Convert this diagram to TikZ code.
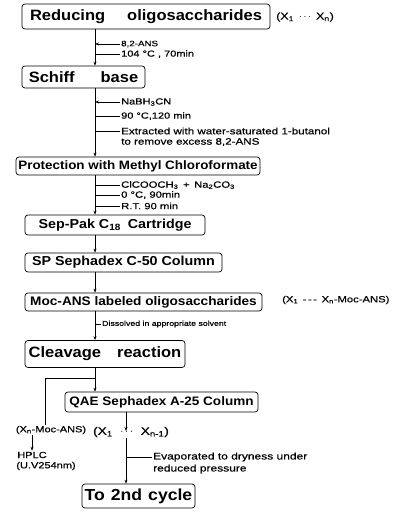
\documentclass[tikz,border=0pt]{standalone}
\usepackage{fontspec}
\setmainfont{Liberation Sans}
\newfontfamily\bxf[FakeStretch=1.1]{Liberation Sans}
\newfontfamily\anf[FakeStretch=1.25,FakeBold=0.5]{Liberation Sans}
\usetikzlibrary{arrows.meta}
\begin{document}
\begin{tikzpicture}[x=1pt,y=-1pt,
  stage/.style={draw, line width=0.7pt, rounded corners=3pt, inner sep=0pt},
  ann/.style={anchor=west, inner sep=1pt, font=\anf\fontsize{8.8}{9}\selectfont},
  conn/.style={line width=0.6pt},
  arr/.style={conn, -{Stealth[length=4pt,width=3pt]}},
]
\useasboundingbox (0,0) rectangle (406,515);
\newcommand\bfs[1]{\bxf\bfseries\fontsize{#1}{#1}\selectfont}
% stages
\node[stage, minimum width=248pt, minimum height=25pt, font=\bfs{15}] (b1) at (146,16.5) {Reducing\hspace{22pt}oligosaccharides};
\node[stage, minimum width=123pt, minimum height=22pt, font=\bfs{15}] (b2) at (83.5,77) {Schiff\hspace{26pt}base};
\node[stage, minimum width=244pt, minimum height=18pt, font=\bfs{12.2}] (b3) at (138,166) {Protection with Methyl Chloroformate};
\node[stage, minimum width=180pt, minimum height=20pt, font=\bfs{13}] (b4) at (115,225) {Sep-Pak C\textsubscript{18}\hspace{7pt}Cartridge};
\node[stage, minimum width=197pt, minimum height=19pt, font=\bfs{13}] (b5) at (123.5,262.5) {SP Sephadex C-50 Column};
\node[stage, minimum width=237pt, minimum height=18pt, font=\bfs{12.4}] (b6) at (143.5,302) {Moc-ANS labeled oligosaccharides};
\node[stage, minimum width=160pt, minimum height=27pt, font=\bfs{15}] (b7) at (105,354) {Cleavage\hspace{16pt}reaction};
\node[stage, minimum width=193pt, minimum height=20pt, font=\bfs{12.3}] (b8) at (161.5,402) {QAE Sephadex A-25 Column};
\node[stage, minimum width=113pt, minimum height=24pt, font=\bfs{16}] (b9) at (138.5,496) {To\hspace{6pt}2nd\hspace{6pt}cycle};
% side labels
\node[ann, font=\anf\fontsize{10}{11}\selectfont] (l1) at (275,17) {(X\textsubscript{1} \,$\cdots$\, X\textsubscript{n})};
\node[ann, font=\anf\fontsize{9}{10}\selectfont] (l2) at (281,300) {(X\textsubscript{1} \,-\,-\,-\, X\textsubscript{n}-Moc-ANS)};
% annotations
\node[ann, font=\anf\fontsize{7.8}{8}\selectfont] (a1) at (120,44) {8,2-ANS};
\node[ann] (a2) at (120,54) {104 °C , 70min};
\node[ann] (a3) at (120,102) {NaBH\textsubscript{3}CN};
\node[ann] (a4) at (120,116) {90 °C,120 min};
\node[ann, font=\anf\fontsize{9.3}{10}\selectfont] (a5) at (120,131) {Extracted with water-saturated 1-butanol};
\node[ann, font=\anf\fontsize{9.3}{10}\selectfont] (a5b) at (120,142) {to remove excess 8,2-ANS};
\node[ann, font=\anf\fontsize{9}{10}\selectfont] (a6) at (120,185) {ClCOOCH\textsubscript{3} \,+\, Na\textsubscript{2}CO\textsubscript{3}};
\node[ann, font=\anf\fontsize{9}{10}\selectfont] (a7) at (120,195) {0 °C, 90min};
\node[ann, font=\anf\fontsize{9}{10}\selectfont] (a8) at (120,206) {R.T. 90 min};
\node[ann, font=\anf\fontsize{7}{8}\selectfont] (a9) at (101,324) {Dissolved in appropriate solvent};
\node[ann, font=\anf\fontsize{9.6}{10}\selectfont] (ev) at (152,457) {Evaporated to dryness under};
\node[ann, font=\anf\fontsize{9.6}{10}\selectfont] (ev2) at (152,469) {reduced pressure};
% lower labels
\node[inner sep=1pt, font=\anf\fontsize{8.8}{9}\selectfont] (xn) at (51,430) {(X\textsubscript{n}-Moc-ANS)};
\node[inner sep=1pt, font=\anf\fontsize{8.8}{9}\selectfont] (hp) at (32,455) {HPLC};
\node[inner sep=1pt, font=\anf\fontsize{8.8}{9}\selectfont] (uv) at (46,466) {(U.V254nm)};
\node[inner sep=1pt, font=\anf\fontsize{11}{12}\selectfont] (xl) at (131,432) {(X\textsubscript{1} \ $\cdots$\ \ X\textsubscript{n-1})};
% coordinates
\coordinate (mx) at (95,0);
\coordinate (br) at (95,378);
\coordinate (lb) at (45,378);
\coordinate (dt) at (126,431);
% main line
\draw[arr] (b1.south -| mx) -- (b2.north -| mx);
\draw[arr] (b2.south -| mx) -- (b3.north -| mx);
\draw[arr] (b3.south -| mx) -- (b4.north -| mx);
\draw[arr] (b4.south -| mx) -- (b5.north -| mx);
\draw[arr] (b5.south -| mx) -- (b6.north -| mx);
\draw[arr] (b6.south -| mx) -- (b7.north -| mx);
\draw[conn] (b7.south -| mx) -- (br);
\draw[arr] (br) -- (b8.north -| br);
\draw[conn] (br) -- (lb) -- (lb |- xn.north);
\draw[arr] (xn.south -| hp.north) -- (hp.north);
\draw[arr] (b8.south -| dt) -- (dt);
\draw[arr] (xl.south -| dt) -- (b9.north -| dt);
% ticks
\draw[arr] (a1.west) -- (a1.west -| mx);
\draw[conn] (a2.west) -- (a2.west -| mx);
\draw[arr] (a3.west) -- (a3.west -| mx);
\draw[conn] (a4.west) -- (a4.west -| mx);
\draw[conn] (a5.west) -- (a5.west -| mx);
\draw[conn] (a6.west) -- (a6.west -| mx);
\draw[conn] (a7.west) -- (a7.west -| mx);
\draw[conn] (a8.west) -- (a8.west -| mx);
\draw[conn] (a9.west) -- (a9.west -| mx);
\draw[conn] (ev.west) -- (ev.west -| dt);
\end{tikzpicture}
\end{document}
